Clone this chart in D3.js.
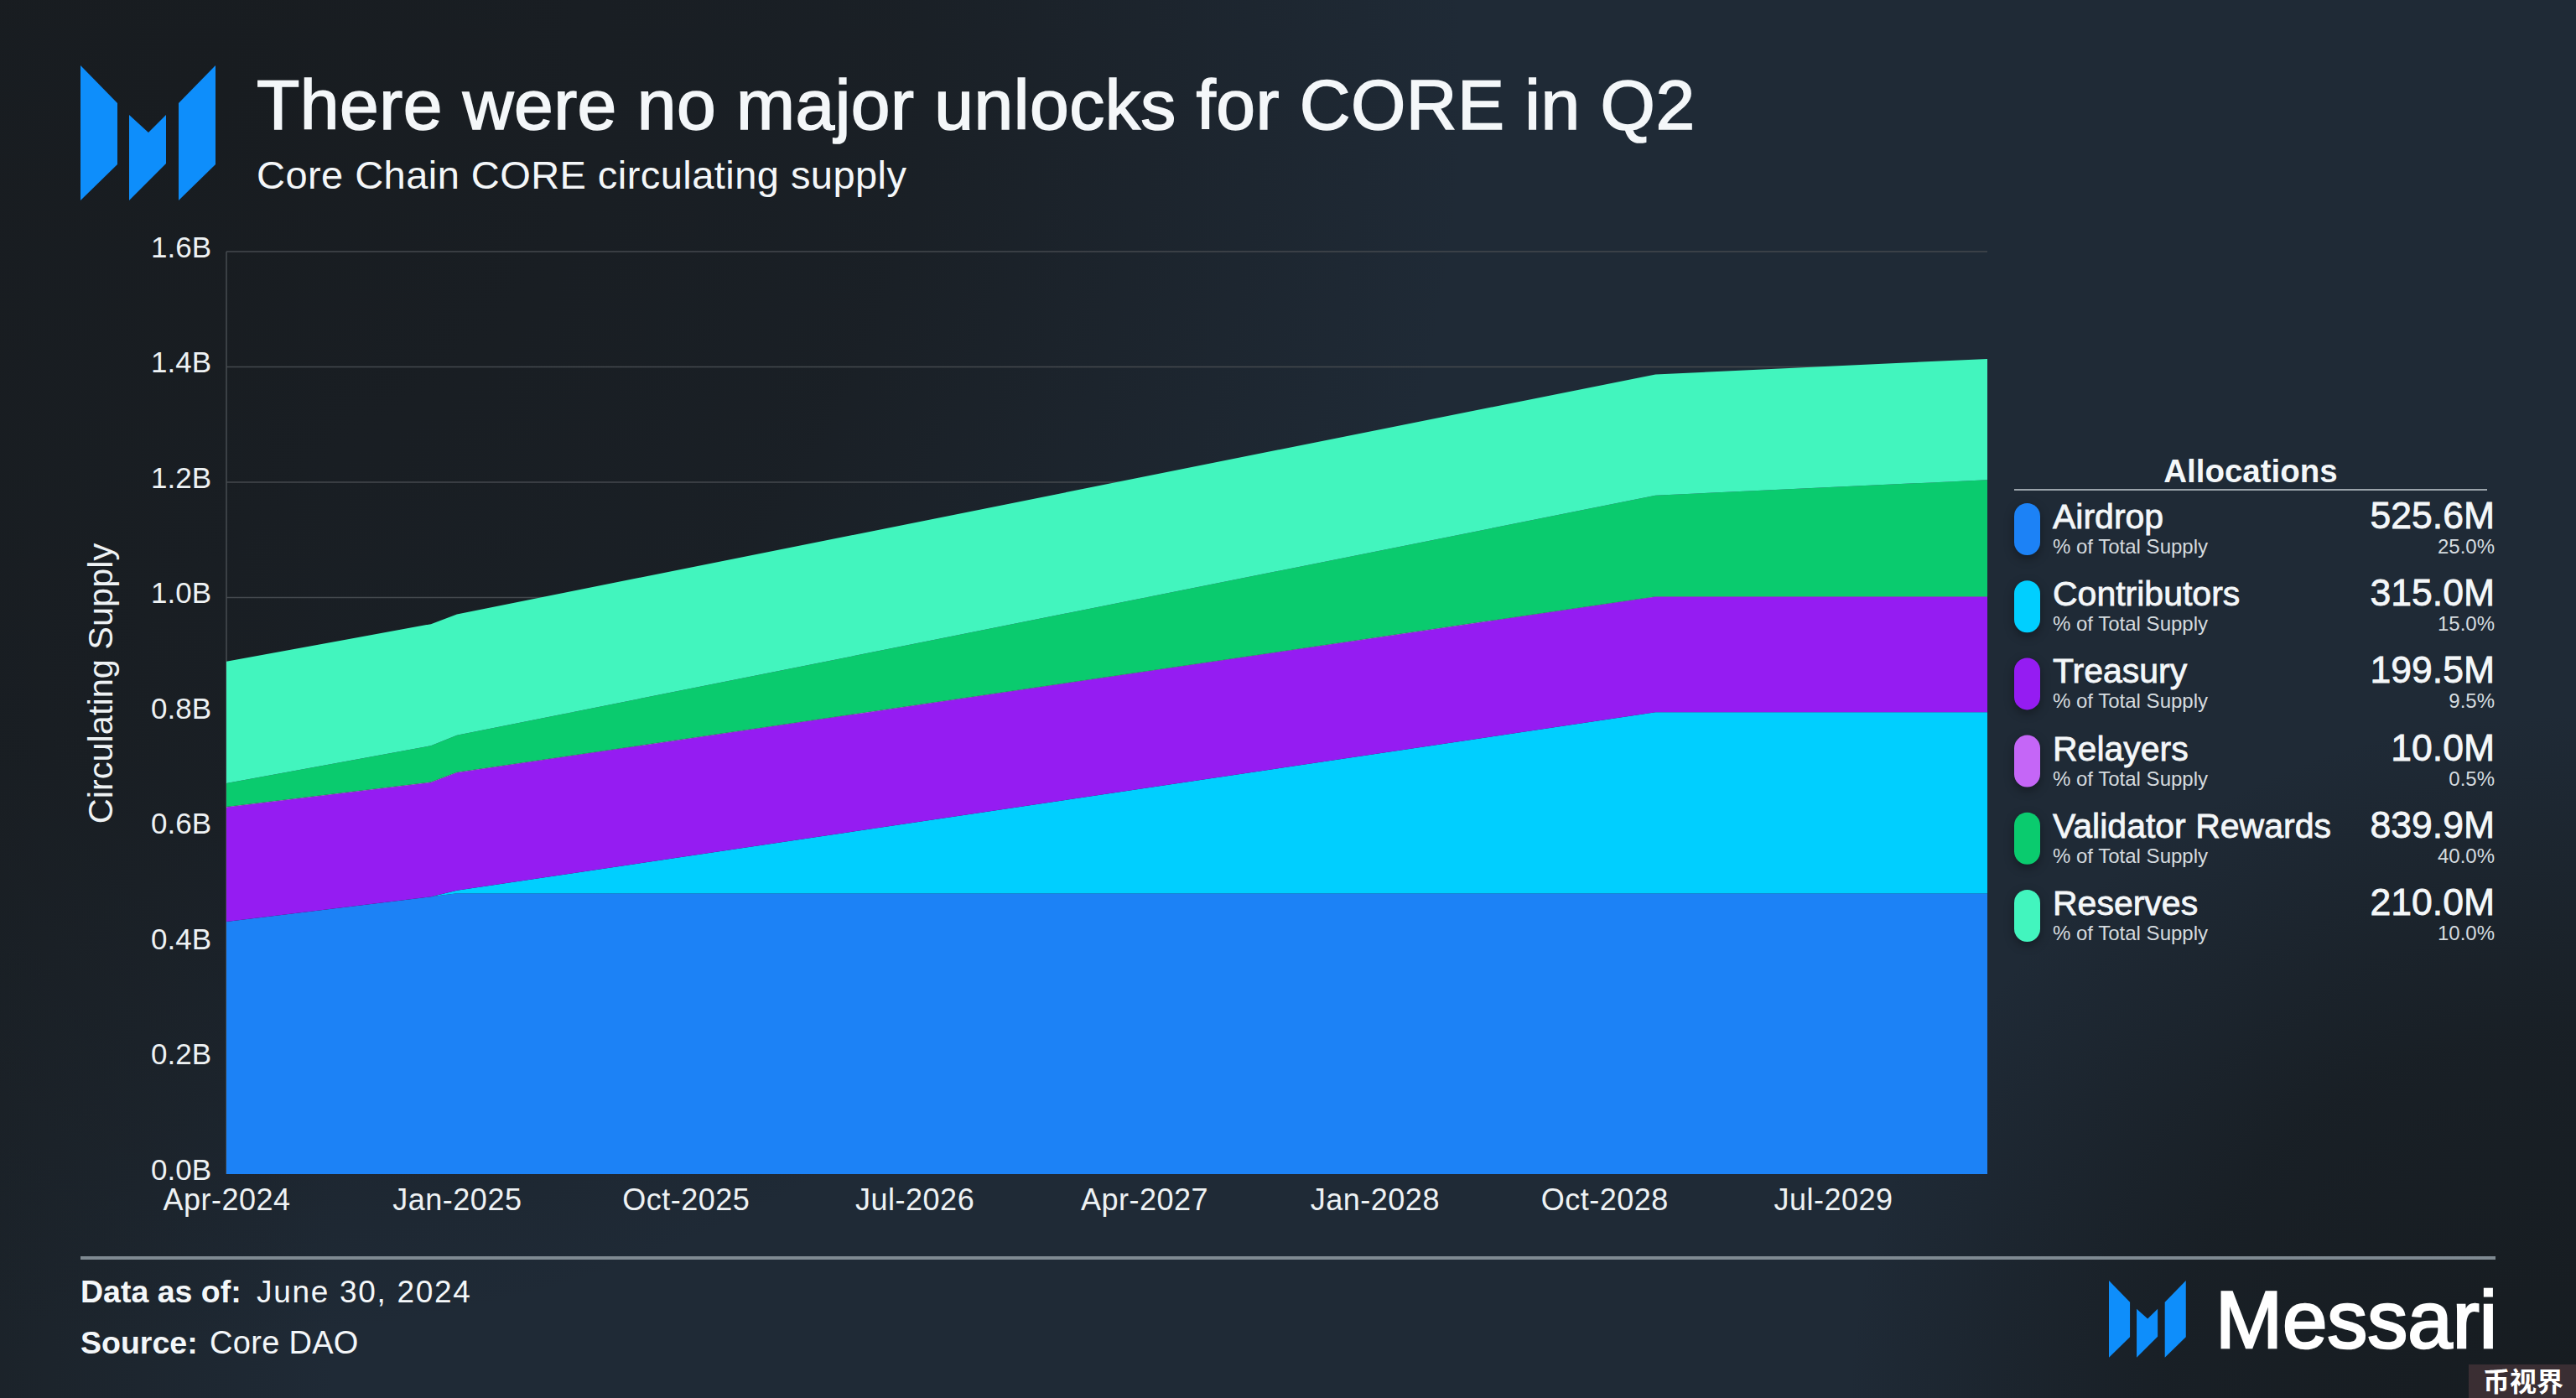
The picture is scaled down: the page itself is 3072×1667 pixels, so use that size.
<!DOCTYPE html>
<html>
<head>
<meta charset="utf-8">
<script src="https://cdn.jsdelivr.net/npm/d3@7.9.0/dist/d3.min.js"></script>
<style>
  html, body { margin: 0; padding: 0; background: #1a2027; }
  svg { display: block; }
  text { font-family: "Liberation Sans", Arial, sans-serif; fill: #f4f7f9; }
  .medium { stroke: #f4f7f9; stroke-width: 1.6px; }
</style>
</head>
<body>
<svg id="chart" width="3072" height="1667"></svg>
<script>
// --- data (billions of CORE, stacked) ---
const dates = ["2024-04-01", "2024-12-01", "2025-01-01", "2028-12-01", "2030-01-01"];
const airdrop = [0.438, 0.481, 0.487, 0.487, 0.487];
const contributors = [0, 0, 0.005, 0.314, 0.314];
const treasury = [0.198, 0.198, 0.204, 0.2, 0.2];
const relayers = [0.001, 0.001, 0.001, 0.001, 0.001];
const validatorRewards = [0.041, 0.063, 0.064, 0.175, 0.202];
const reserves = [0.211, 0.211, 0.21, 0.21, 0.21];

const yTicks = [0, 0.2, 0.4, 0.6, 0.8, 1.0, 1.2, 1.4, 1.6];
const xTicks = ["2024-04-01", "2025-01-01", "2025-10-01", "2026-07-01", "2027-04-01", "2028-01-01", "2028-10-01", "2029-07-01"];

const allocationNames = ["Airdrop", "Contributors", "Treasury", "Relayers", "Validator Rewards", "Reserves"];
const allocationAmounts = ["525.6M", "315.0M", "199.5M", "10.0M", "839.9M", "210.0M"];
const allocationShares = ["25.0%", "15.0%", "9.5%", "0.5%", "40.0%", "10.0%"];
const allocationColors = ["#1c82f6", "#00cfff", "#951cf2", "#c566f7", "#0acb6e", "#42f5be"];
const allocationSeries = [airdrop, contributors, treasury, relayers, validatorRewards, reserves];

// logo outline, in a 161 x 161 box
const logoShapes = [
  [[0, 0], [44, 45], [44, 118], [0, 161]],
  [[58, 59], [81, 80], [102, 59], [102, 117], [58, 161]],
  [[161, 0], [117, 45], [117, 161], [161, 118]],
];

const svg = d3.select("#chart");
const parseDate = d3.utcParse("%Y-%m-%d");

// --- background: flat blue-grey with darker corners laid over it ---
const defs = svg.append("defs");
function cornerGradient(id, cx, cy, r, color, opacity) {
  const g = defs.append("radialGradient").attr("id", id)
    .attr("gradientUnits", "userSpaceOnUse")
    .attr("cx", cx).attr("cy", cy).attr("r", r);
  g.append("stop").attr("offset", "0%").attr("stop-color", color).attr("stop-opacity", opacity);
  g.append("stop").attr("offset", "55%").attr("stop-color", color).attr("stop-opacity", opacity * 0.75);
  g.append("stop").attr("offset", "100%").attr("stop-color", color).attr("stop-opacity", 0);
}
cornerGradient("bgTopLeft", 250, 100, 1500, "#181c20", 1);
cornerGradient("bgBottomRight", 3050, 1700, 850, "#161b1f", 0.95);
const leftEdge = defs.append("linearGradient").attr("id", "bgLeft");
leftEdge.append("stop").attr("offset", "0%").attr("stop-color", "#1a2025").attr("stop-opacity", 0.7);
leftEdge.append("stop").attr("offset", "100%").attr("stop-color", "#1a2025").attr("stop-opacity", 0);

svg.append("rect").attr("width", 3072).attr("height", 1667).attr("fill", "#1f2a36");
svg.append("rect").attr("width", 400).attr("height", 1667).attr("fill", "url(#bgLeft)");
svg.append("rect").attr("width", 3072).attr("height", 1667).attr("fill", "url(#bgTopLeft)");
svg.append("rect").attr("width", 3072).attr("height", 1667).attr("fill", "url(#bgBottomRight)");

// --- scales ---
const x = d3.scaleUtc()
  .domain(d3.extent(dates, parseDate))
  .range([270, 2370]);
const y = d3.scaleLinear().domain([0, 1.6]).range([1400, 300]);

// --- grid and axes ---
const grid = svg.append("g").attr("stroke", "#44494e").attr("stroke-width", 1.6);
grid.selectAll("line")
  .data(yTicks.filter((d) => d > 0))
  .join("line")
  .attr("x1", 270).attr("x2", 2370)
  .attr("y1", (d) => y(d)).attr("y2", (d) => y(d));
grid.append("line").attr("x1", 270).attr("x2", 270).attr("y1", y(1.6)).attr("y2", y(0));

// --- stacked areas ---
const rows = dates.map((d, i) => {
  const row = { date: parseDate(d) };
  allocationNames.forEach((name, j) => { row[name] = allocationSeries[j][i]; });
  return row;
});
const stacked = d3.stack().keys(allocationNames)(rows);
const area = d3.area()
  .x((d) => x(d.data.date))
  .y0((d) => y(d[0]))
  .y1((d) => y(d[1]));
svg.append("g").selectAll("path")
  .data(stacked)
  .join("path")
  .attr("fill", (_, i) => allocationColors[i])
  .attr("d", area);

const yAxis = svg.append("g")
  .attr("transform", "translate(264,0)")
  .call(d3.axisLeft(y).tickValues(yTicks).tickSize(0).tickPadding(0).tickFormat((d) => d.toFixed(1) + "B"));
yAxis.select(".domain").remove();
yAxis.selectAll("text").attr("x", 0).attr("dx", -12).attr("dy", "0.32em")
  .attr("transform", "translate(0,-5)")
  .attr("font-size", 35).style("fill", "#eef2f4");

const xAxis = svg.append("g")
  .attr("transform", "translate(0,1419)")
  .call(d3.axisBottom(x).tickValues(xTicks.map(parseDate)).tickSize(0).tickPadding(0).tickFormat(d3.utcFormat("%b-%Y")));
xAxis.select(".domain").remove();
xAxis.selectAll("text").attr("y", 24).attr("dy", 0)
  .attr("font-size", 36).style("letter-spacing", "0.5px").style("fill", "#eef2f4");

svg.append("text")
  .attr("transform", "translate(134,815) rotate(-90)")
  .attr("text-anchor", "middle")
  .attr("font-size", 41.5)
  .style("fill", "#eef2f4")
  .text("Circulating Supply");

// --- heading ---
function drawLogo(dx, dy, k) {
  svg.append("g")
    .attr("transform", `translate(${dx},${dy}) scale(${k})`)
    .attr("fill", "#0e8efb")
    .selectAll("polygon")
    .data(logoShapes)
    .join("polygon")
    .attr("points", (d) => d.join(" "));
}
drawLogo(96, 78, 1);

svg.append("text").attr("class", "medium")
  .attr("x", 306).attr("y", 154).attr("font-size", 84)
  .style("letter-spacing", "0.5px")
  .text("There were no major unlocks for CORE in Q2");
svg.append("text")
  .attr("x", 306).attr("y", 225).attr("font-size", 47)
  .style("letter-spacing", "0.45px")
  .text("Core Chain CORE circulating supply");

// --- legend ---
const legend = svg.append("g");
legend.append("text")
  .attr("x", 2684).attr("y", 575).attr("text-anchor", "middle")
  .attr("font-size", 38.5)
  .style("font-weight", "bold")
  .text("Allocations");
legend.append("line")
  .attr("x1", 2402).attr("x2", 2966).attr("y1", 584).attr("y2", 584)
  .attr("stroke", "#9aa3aa").attr("stroke-width", 2);

const items = legend.selectAll("g.item")
  .data(allocationNames)
  .join("g")
  .attr("class", "item")
  .attr("transform", (_, i) => `translate(0,${i * 92.2})`);
items.append("rect")
  .attr("x", 2402).attr("y", 600).attr("width", 31).attr("height", 62).attr("rx", 15.5)
  .attr("fill", (_, i) => allocationColors[i])
  .style("filter", "drop-shadow(0 4px 6px rgba(0,0,0,0.35))");
items.append("text").attr("class", "medium")
  .attr("x", 2448).attr("y", 630).attr("font-size", 41).style("stroke-width", "0.8px")
  .text((d) => d);
items.append("text")
  .attr("x", 2448).attr("y", 660).attr("font-size", 24).style("fill", "#d5dbdf")
  .text("% of Total Supply");
items.append("text").attr("class", "medium")
  .attr("x", 2975).attr("y", 630).attr("font-size", 44.5).attr("text-anchor", "end").style("stroke-width", "0.8px")
  .text((_, i) => allocationAmounts[i]);
items.append("text")
  .attr("x", 2975).attr("y", 660).attr("font-size", 24).attr("text-anchor", "end").style("fill", "#d5dbdf")
  .text((_, i) => allocationShares[i]);

// --- footer ---
svg.append("line")
  .attr("x1", 96).attr("x2", 2976).attr("y1", 1500).attr("y2", 1500)
  .attr("stroke", "#7f8a92").attr("stroke-width", 4);

const dataAsOf = svg.append("text").attr("x", 96).attr("y", 1553).attr("font-size", 37.5);
dataAsOf.append("tspan").style("font-weight", "bold").text("Data as of:");
dataAsOf.append("tspan").attr("x", 306).attr("font-size", 37).style("letter-spacing", "1.7px").text("June 30, 2024");
const source = svg.append("text").attr("x", 96).attr("y", 1614).attr("font-size", 37.5);
source.append("tspan").style("font-weight", "bold").text("Source:");
source.append("tspan").attr("x", 250).attr("font-size", 38).style("letter-spacing", "0.3px").text("Core DAO");

drawLogo(2515, 1527, 0.57);
svg.append("text").attr("class", "medium")
  .attr("x", 2642).attr("y", 1607).attr("font-size", 96)
  .style("fill", "#fff").style("stroke", "#fff").style("stroke-width", "2.6px")
  .text("Messari");

// watermark
svg.append("rect").attr("x", 2944).attr("y", 1627).attr("width", 128).attr("height", 40).attr("fill", "#3a2e33");
svg.append("text")
  .attr("x", 3009).attr("y", 1659).attr("text-anchor", "middle")
  .attr("font-size", 32)
  .style("font-family", '"Noto Sans CJK SC"').style("font-weight", "bold").style("fill", "#fff")
  .text("币视界");
</script>
</body>
</html>
